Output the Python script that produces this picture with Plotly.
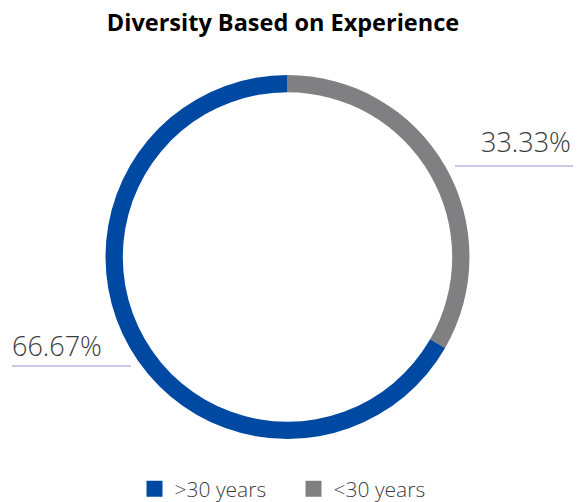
import plotly.graph_objects as go

labels = [">30 years", "<30 years"]
values = [66.67, 33.33]
colors = ["#0049A3", "#808083"]
title_text = "Diversity Based on Experience"

fig = go.Figure()
fig.add_trace(go.Pie(
    labels=labels[::-1], values=values[::-1], sort=False, direction="clockwise",
    rotation=0, hole=0.905, textinfo="none", hoverinfo="label+percent",
    marker=dict(colors=colors[::-1], line=dict(width=0)), showlegend=False,
    domain=dict(x=[0.1828, 0.8137], y=[0.1255, 0.8506]),
))
for lab, col in zip(labels, colors):
    fig.add_trace(go.Scatter(
        x=[None], y=[None], mode="markers", name=lab,
        marker=dict(symbol="square", size=18, color=col),
    ))

# percentage labels
fig.add_annotation(text=f"{values[1]:.2f}%", x=0.993, y=1 - 141 / 502, xref="paper", yref="paper",
                   xanchor="right", yanchor="middle", showarrow=False,
                   font=dict(size=27, color="#3C3C3C", family="Open Sans", weight=300))
fig.add_annotation(text=f"{values[0]:.2f}%", x=0.018, y=1 - 345 / 502, xref="paper", yref="paper",
                   xanchor="left", yanchor="middle", showarrow=False,
                   font=dict(size=27, color="#3C3C3C", family="Open Sans", weight=300))
fig.add_shape(type="line", xref="paper", yref="paper", x0=455 / 577, x1=573 / 577,
              y0=1 - 166 / 502, y1=1 - 166 / 502, line=dict(color="#8E95CC", width=1.2))
fig.add_shape(type="line", xref="paper", yref="paper", x0=12 / 577, x1=131 / 577,
              y0=1 - 366 / 502, y1=1 - 366 / 502, line=dict(color="#8E95CC", width=1.2))

fig.update_layout(
    width=577, height=502, margin=dict(l=0, r=0, t=0, b=0, autoexpand=False),
    paper_bgcolor="white", plot_bgcolor="white",
    title=dict(text=f"<b>{title_text}</b>", x=283 / 577, xanchor="center", y=1 - 23 / 502, yanchor="middle",
               font=dict(size=23.5, color="#000000", family="Open Sans")),
    xaxis=dict(visible=False), yaxis=dict(visible=False),
    legend=dict(orientation="h", x=0.5 + 5 / 577, xanchor="center", y=1 - 489 / 502, yanchor="middle",
                font=dict(size=21, color="#3C3C3C", family="Open Sans", weight=300),
                itemwidth=30, entrywidth=114, entrywidthmode="pixels",
                bgcolor="rgba(0,0,0,0)"),
)
fig.write_html("out.html")
